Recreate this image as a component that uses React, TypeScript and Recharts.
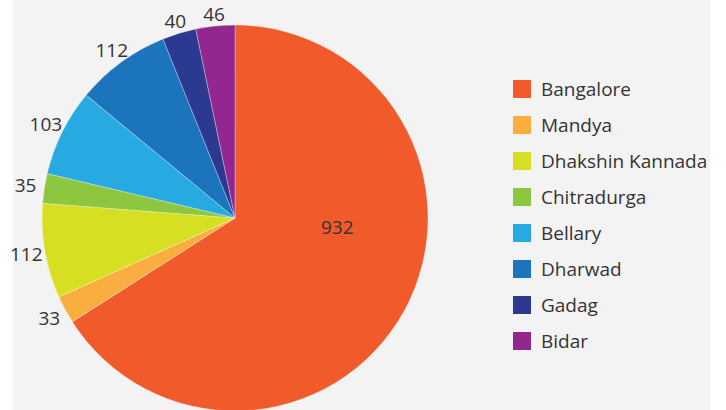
import { PieChart, Pie, Cell, Legend } from "recharts";

const districts = ["Bangalore", "Mandya", "Dhakshin Kannada", "Chitradurga", "Bellary", "Dharwad", "Gadag", "Bidar"];
const counts = [932, 33, 112, 35, 103, 112, 40, 46];
const colors = ["#f15a2b", "#fbae40", "#d7df23", "#8dc63f", "#27aae1", "#1c75bc", "#2b3990", "#92278f"];

const data = districts.map((name, i) => ({ name, value: counts[i] }));

const FONT = "'Open Sans', 'Noto Sans', sans-serif";
const RAD = Math.PI / 180;

function renderLabel(props: any) {
  const { cx, cy, midAngle, outerRadius, value, index } = props;
  const cos = Math.cos(-midAngle * RAD);
  const sin = Math.sin(-midAngle * RAD);
  if (index === 0) {
    // big slice: label sits inside, right of centre
    return (
      <text x={cx + outerRadius * 0.53} y={cy + outerRadius * 0.047} fill="#333" fontSize={19} fontFamily={FONT} textAnchor="middle" dominantBaseline="central">
        {value}
      </text>
    );
  }
  const r = outerRadius + 11 + 8 * Math.abs(cos);
  return (
    <text x={cx + r * cos} y={cy + r * sin} fill="#333" fontSize={19} fontFamily={FONT} textAnchor="middle" dominantBaseline="central">
      {value}
    </text>
  );
}

function LegendList() {
  return (
    <div style={{ fontFamily: FONT, fontSize: 19, color: "#333" }}>
      {districts.map((d, i) => (
        <div key={d} style={{ display: "flex", alignItems: "center", height: 36, whiteSpace: "nowrap" }}>
          <span style={{ display: "inline-block", width: 18, height: 18, background: colors[i], marginRight: 10, flexShrink: 0 }} />
          {d}
        </div>
      ))}
    </div>
  );
}

export default function App() {
  return (
    <div style={{ position: "absolute", left: 0, top: 0, width: 726, height: 410, background: "#fff", overflow: "hidden" }}>
      <div style={{ position: "absolute", left: 13, top: 0, width: 697, height: 410, background: "#f3f3f3" }} />
      <div style={{ position: "absolute", left: 0, top: 0, width: 710, height: 410, overflow: "hidden" }}>
        <PieChart width={726} height={410} margin={{ top: 0, right: 0, bottom: 0, left: 0 }}>
          <Pie
            data={data}
            dataKey="value"
            nameKey="name"
            cx={235}
            cy={218}
            outerRadius={193}
            startAngle={90}
            endAngle={-270}
            stroke="#ffffff"
            strokeWidth={0.5}
            strokeOpacity={0.6}
            label={renderLabel}
            labelLine={false}
            isAnimationActive={false}
          >
            {data.map((d, i) => (
              <Cell key={d.name} fill={colors[i]} />
            ))}
          </Pie>
          <Legend content={<LegendList />} layout="vertical" wrapperStyle={{ left: 513, top: 71, width: 210 }} />
        </PieChart>
      </div>
    </div>
  );
}
